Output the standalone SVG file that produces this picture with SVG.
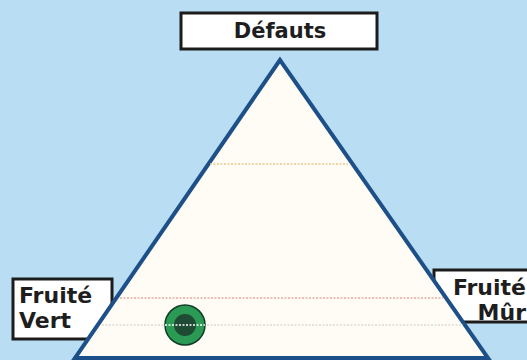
<svg xmlns="http://www.w3.org/2000/svg" width="527" height="360" viewBox="0 0 527 360">
<style>
.box{fill:#ffffff;stroke:#1c1c1c;stroke-width:3}
.lbl{font-family:"DejaVu Sans","Liberation Sans",sans-serif;font-weight:bold;font-size:22px;fill:#1e1e1e}
.dot{stroke-width:1.5;stroke-dasharray:2 1.5;fill:none}
</style>
<rect x="0" y="0" width="527" height="360" fill="#b9ddf3"/>
<g id="defauts">
<rect class="box" x="181" y="13" width="196" height="36"/>
<text class="lbl" x="280" y="38" text-anchor="middle" style="font-size:21px">Défauts</text>
</g>
<g id="fruite-vert">
<rect class="box" x="13" y="279" width="99" height="60"/>
<text class="lbl" x="19" y="303">Fruité</text>
<text class="lbl" x="19" y="328">Vert</text>
</g>
<g id="fruite-mur">
<rect class="box" x="434" y="270" width="96" height="52"/>
<text class="lbl" x="526" y="295" text-anchor="end">Fruité</text>
<text class="lbl" x="526" y="320" text-anchor="end">Mûr</text>
</g>
<g id="triangle">
<polygon points="280,60 75,358 488,358" fill="#fefcf4" stroke="#1d4f88" stroke-width="4" stroke-linejoin="miter"/>
</g>
<g id="connectors">
<line class="dot" x1="210" y1="164" x2="348" y2="164" stroke="#e9c98e"/>
<line class="dot" x1="120" y1="298" x2="443" y2="298" stroke="#e2aaa2"/>
<line class="dot" x1="102" y1="325" x2="463" y2="325" stroke="#dddbd2"/>
</g>
<g id="marker">
<circle cx="185" cy="325" r="20" fill="#2a9a55" stroke="#0f3d25" stroke-width="1.5"/>
<circle cx="185" cy="325" r="11" fill="#1f4a33"/>
<line x1="165" y1="325" x2="205" y2="325" stroke="#ffffff" stroke-width="1.5" stroke-dasharray="2 1.5"/>
</g>
</svg>
